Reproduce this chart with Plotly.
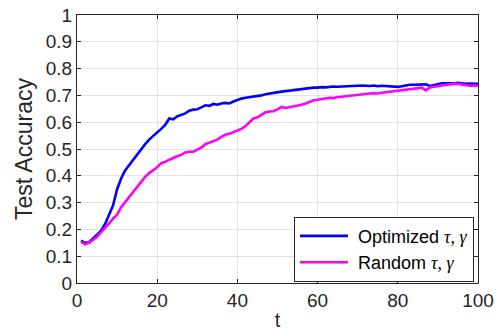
import plotly.graph_objects as go

t = list(range(1, 101))

optimized = [
    0.158, 0.150, 0.152, 0.165, 0.180, 0.195, 0.220, 0.255, 0.290, 0.350,
    0.390, 0.420, 0.440, 0.460, 0.480, 0.500, 0.518, 0.535, 0.550, 0.562,
    0.575, 0.590, 0.614, 0.611, 0.622, 0.628, 0.633, 0.643, 0.647, 0.648,
    0.656, 0.663, 0.661, 0.668, 0.665, 0.670, 0.672, 0.670, 0.677, 0.683,
    0.688, 0.691, 0.693, 0.694, 0.698, 0.700, 0.704, 0.707, 0.709, 0.712,
    0.714, 0.716, 0.718, 0.719, 0.721, 0.722, 0.726, 0.728, 0.729, 0.729,
    0.731, 0.730, 0.732, 0.733, 0.732, 0.733, 0.734, 0.733, 0.735, 0.736,
    0.737, 0.736, 0.735, 0.737, 0.734, 0.736, 0.735, 0.736, 0.735, 0.732,
    0.734, 0.738, 0.740, 0.740, 0.741, 0.742, 0.741, 0.735, 0.738, 0.743,
    0.745, 0.745, 0.744, 0.745, 0.747, 0.744, 0.743, 0.744, 0.743, 0.743,
]

random_ = [
    0.154, 0.144, 0.150, 0.160, 0.172, 0.190, 0.205, 0.222, 0.240, 0.255,
    0.283, 0.302, 0.320, 0.340, 0.360, 0.377, 0.396, 0.410, 0.421, 0.432,
    0.447, 0.452, 0.460, 0.468, 0.473, 0.478, 0.487, 0.490, 0.490, 0.498,
    0.505, 0.518, 0.523, 0.528, 0.535, 0.545, 0.553, 0.557, 0.563, 0.568,
    0.575, 0.585, 0.600, 0.614, 0.618, 0.627, 0.637, 0.640, 0.641, 0.648,
    0.657, 0.653, 0.656, 0.657, 0.660, 0.665, 0.670, 0.677, 0.682, 0.684,
    0.686, 0.688, 0.691, 0.690, 0.694, 0.695, 0.697, 0.699, 0.700, 0.701,
    0.703, 0.705, 0.707, 0.708, 0.707, 0.710, 0.712, 0.713, 0.716, 0.717,
    0.718, 0.720, 0.722, 0.724, 0.726, 0.729, 0.719, 0.730, 0.732, 0.734,
    0.737, 0.739, 0.740, 0.744, 0.743, 0.740, 0.738, 0.736, 0.737, 0.736,
]

x_ticks = [0, 20, 40, 60, 80, 100]
y_ticks = [0, 0.1, 0.2, 0.3, 0.4, 0.5, 0.6, 0.7, 0.8, 0.9, 1]
y_tick_labels = ["0", "0.1", "0.2", "0.3", "0.4", "0.5", "0.6", "0.7", "0.8", "0.9", "1"]

greek = "<span style=\"font-family:'Liberation Serif'\"><i>τ</i>, <i>γ</i></span>"
names = [" Optimized " + greek, " Random " + greek]

FONT = "Liberation Sans, Arial, Helvetica, sans-serif"
TXT = "#262626"

fig = go.Figure()
fig.add_trace(go.Scatter(x=t, y=optimized, mode="lines", name=names[0],
                         line=dict(color="#0000ff", width=2.6)))
fig.add_trace(go.Scatter(x=t, y=random_, mode="lines", name=names[1],
                         line=dict(color="#ff00ff", width=2.6)))

axis_common = dict(
    showline=True, linecolor=TXT, linewidth=1, mirror="ticks",
    ticks="inside", ticklen=4, tickcolor=TXT,
    showgrid=True, gridcolor="#e3e3e3", gridwidth=1,
    zeroline=False, automargin=False,
    tickfont=dict(family=FONT, size=19, color=TXT),
)

fig.update_xaxes(range=[0, 100], tickvals=x_ticks,
                 title=dict(text="t", standoff=4,
                            font=dict(family=FONT, size=20, color=TXT)),
                 **axis_common)
fig.update_yaxes(range=[0, 1], tickvals=y_ticks, ticktext=y_tick_labels,
                 title=dict(text="Test Accuracy", standoff=6,
                            font=dict(family=FONT, size=23, color=TXT)),
                 **axis_common)

fig.update_layout(
    width=499, height=331,
    margin=dict(l=77, r=21, t=15, b=48),
    paper_bgcolor="white", plot_bgcolor="white",
    showlegend=True,
    legend=dict(x=0.99, y=0.005, xanchor="right", yanchor="bottom",
                bgcolor="white", bordercolor=TXT, borderwidth=1,
                font=dict(family=FONT, size=18, color="black"),
                tracegroupgap=0, itemwidth=48),
)

fig.write_html("out.html",
               config={"displayModeBar": False},
               post_script="document.body.style.margin='0';document.body.style.overflow='hidden';")
